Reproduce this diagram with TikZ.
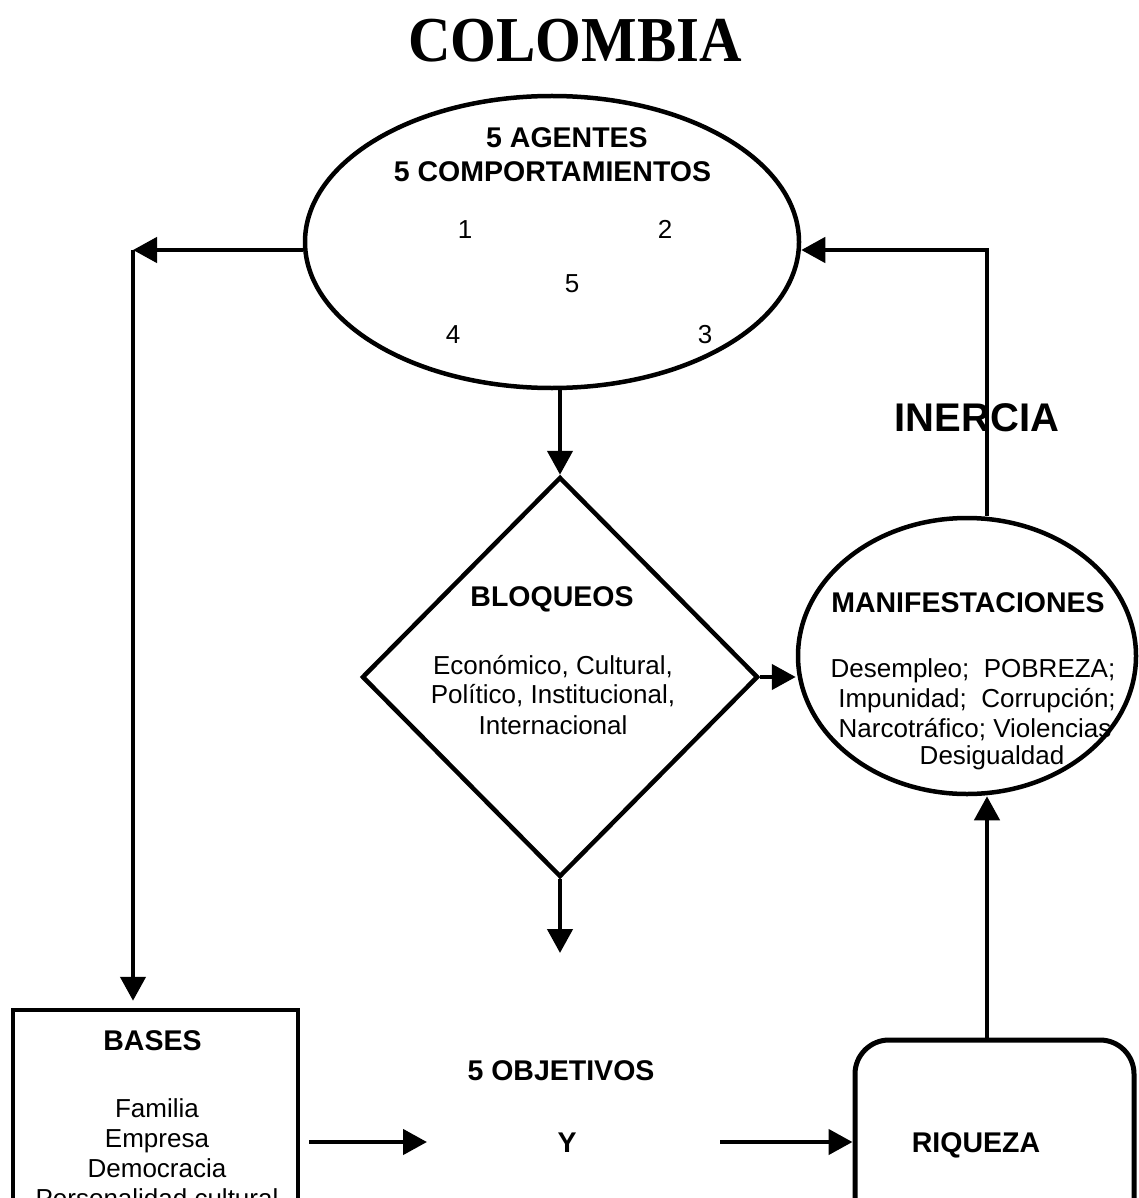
\documentclass[tikz,border=0pt]{standalone}
\usepackage{fontspec}
\setmainfont{Liberation Sans}
\newfontfamily\titlefont{Liberation Serif}
\usetikzlibrary{shapes.geometric,arrows.meta}
\begin{document}
\begin{tikzpicture}[x=1pt,y=-1pt,
  shapeborder/.style={draw,line width=4.5pt,inner sep=0pt},
  arr/.style={line width=4.5pt,-{Triangle[length=24pt,width=25pt]}},
  head/.style={font=\fontsize{28.5}{30}\selectfont\bfseries,anchor=base,inner sep=0pt},
  body/.style={font=\fontsize{26}{30}\selectfont,anchor=base,inner sep=0pt},
]
\useasboundingbox (0,0) rectangle (1139,1198);
\clip (0,0) rectangle (1139,1198);

% title
\node[anchor=base,inner sep=0pt,font=\titlefont\bfseries\fontsize{64}{64}\selectfont] (title) at (575,62) {\scalebox{0.92}[1]{COLOMBIA}};

% shapes
\node[shapeborder,ellipse,minimum width=494pt,minimum height=292pt] (agents) at (552,242) {};
\node[shapeborder,diamond,minimum width=396pt,minimum height=400pt] (bloq) at (560,677) {};
\node[shapeborder,ellipse,minimum width=338pt,minimum height=276pt] (manif) at (967,656) {};
\node[shapeborder,rectangle,minimum width=285pt,minimum height=250pt] (bases) at (155.5,1135) {};
\node[shapeborder,rectangle,rounded corners=34pt,line width=5pt,minimum width=279pt,minimum height=240pt] (riq) at (994.5,1160) {};

% texts
\node[head] (ag1) at (567,148) {5 AGENTES};
\node[head] (ag2) at (552.5,182) {5 COMPORTAMIENTOS};
\node[body] (n1) at (465,238) {1};
\node[body] (n2) at (665,238) {2};
\node[body] (n5) at (572,292) {5};
\node[body] (n4) at (453,343) {4};
\node[body] (n3) at (705,343) {3};

\node[head] (bl0) at (552,606) {BLOQUEOS};
\node[body] (bl1) at (553,674) {Económico, Cultural,};
\node[body] (bl2) at (553,703) {Político, Institucional,};
\node[body] (bl3) at (553,734) {Internacional};

\node[head] (m0) at (968,612) {MANIFESTACIONES};
\node[body] (m1) at (973,677) {Desempleo;\ \ POBREZA;};
\node[body] (m2) at (977,707) {Impunidad;\ \ Corrupción;};
\node[body] (m3) at (975,737) {Narcotráfico; Violencias};
\node[body] (m4) at (992,764) {Desigualdad};

\node[head,font=\fontsize{40}{40}\selectfont\bfseries] (inercia) at (977,431) {INERCIA};

\node[head] (b0) at (152.5,1050) {BASES};
\node[body] (b1) at (157,1117) {Familia};
\node[body] (b2) at (157,1147) {Empresa};
\node[body] (b3) at (157,1177) {Democracia};
\node[body] (b4) at (157,1207) {Personalidad cultural};

\node[head] (obj) at (561,1080) {5 OBJETIVOS};
\node[head] (ytext) at (567,1152) {Y};
\node[head] (rq) at (976,1152) {RIQUEZA};

% free ends
\coordinate (cL) at (133,250);
\coordinate (cR) at (987,250);
\coordinate (cD) at (560,953);
\coordinate (cB) at (427,1142);
\coordinate (cY) at (720,1142);

% connectors
\draw[arr] (cL -| agents.west) -- (cL);
\draw[arr,shorten >=7pt] (cL) -- (cL |- bases.north);
\draw[arr] (agents.south -| bloq.north) -- (bloq.north);
\draw[arr] (bloq.south) -- (cD);
\draw[arr] (bloq.east) -- (bloq.east -| manif.west);
\draw[arr] (riq.north -| cR) -- (manif.south -| cR);
\draw[arr] (manif.north -| cR) -- (cR) -- (cR -| agents.east);
\draw[arr,shorten <=9pt] (bases.east |- cB) -- (cB);
\draw[arr] (cY) -- (cY -| riq.west);
\end{tikzpicture}
\end{document}
